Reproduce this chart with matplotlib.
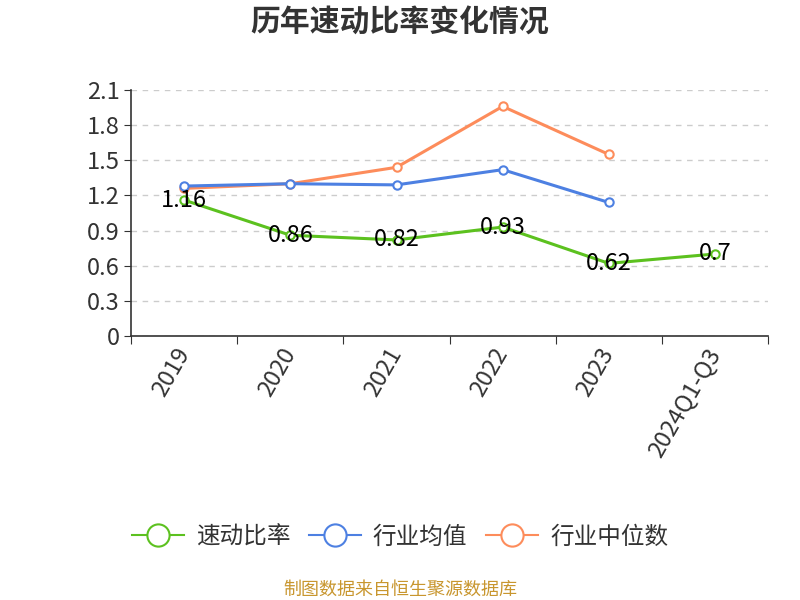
import matplotlib
matplotlib.use('Agg')
import matplotlib.pyplot as plt
from matplotlib.lines import Line2D
from matplotlib.ticker import FixedLocator

plt.rcParams['font.family'] = ['Noto Sans CJK SC', 'DejaVu Sans']

years = ['2019', '2020', '2021', '2022', '2023', '2024Q1-Q3']
quick_ratio = [1.16, 0.86, 0.82, 0.93, 0.62, 0.7]
industry_mean = [1.28, 1.30, 1.29, 1.42, 1.14]
industry_median = [1.26, 1.30, 1.44, 1.96, 1.55]

green = '#5cc11f'
blue = '#4d80e2'
orange = '#fd8c5b'

fig = plt.figure(figsize=(8, 6), dpi=100)
ax = fig.add_axes([0.164, 0.44, 0.796, 0.41])

x = list(range(len(years)))
for vals, c in [(industry_median, orange), (industry_mean, blue), (quick_ratio, green)]:
    ax.plot(x[:len(vals)], vals, color=c, lw=2.2, marker='o', ms=6,
            mfc='white', mec=c, mew=1.5, zorder=3)

for xi, v in zip(x, quick_ratio):
    ax.text(xi, v, f'{v:g}', ha='center', va='center', fontsize=17,
            color='black', zorder=4)

ax.set_xlim(-0.5, len(years) - 0.5)
ax.set_ylim(0, 2.1)
ax.set_yticks([0, 0.3, 0.6, 0.9, 1.2, 1.5, 1.8, 2.1])
ax.set_yticklabels(['0', '0.3', '0.6', '0.9', '1.2', '1.5', '1.8', '2.1'])
ax.yaxis.grid(True, ls=(0, (4, 4)), color='#cccccc', lw=1)
ax.set_axisbelow(True)

ax.xaxis.set_major_locator(FixedLocator([i - 0.5 for i in range(len(years) + 1)]))
ax.xaxis.set_minor_locator(FixedLocator(x))
ax.set_xticklabels([], minor=False)
ax.set_xticklabels(years, minor=True, rotation=60, ha='right', va='center',
                   rotation_mode='anchor', fontsize=17, color='#333333')
ax.tick_params(axis='x', which='major', length=6, color='#333333')
ax.tick_params(axis='x', which='minor', length=0, pad=10)
ax.tick_params(axis='y', length=5, color='#333333', labelsize=17,
               labelcolor='#333333')

for s in ['top', 'right']:
    ax.spines[s].set_visible(False)
for s in ['left', 'bottom']:
    ax.spines[s].set_color('#333333')
    ax.spines[s].set_linewidth(1.2)

fig.text(0.5, 0.962, '历年速动比率变化情况', ha='center', va='center',
         fontsize=21.5, fontweight='bold', color='#333333')

handles = [Line2D([], [], color=c, lw=1.5, marker='o', ms=16, mfc='white',
                  mec=c, mew=1.5) for c in [green, blue, orange]]
fig.legend(handles, ['速动比率', '行业均值', '行业中位数'], loc='center',
           bbox_to_anchor=(0.5, 0.105), ncol=3, frameon=False, fontsize=17,
           handlelength=2.2, columnspacing=0.8, handletextpad=0.5,
           labelcolor='#333333')

fig.text(0.5, 0.018, '制图数据来自恒生聚源数据库', ha='center', va='center',
         fontsize=13, color='#c8962e')

fig.savefig('out.png', dpi=100)
